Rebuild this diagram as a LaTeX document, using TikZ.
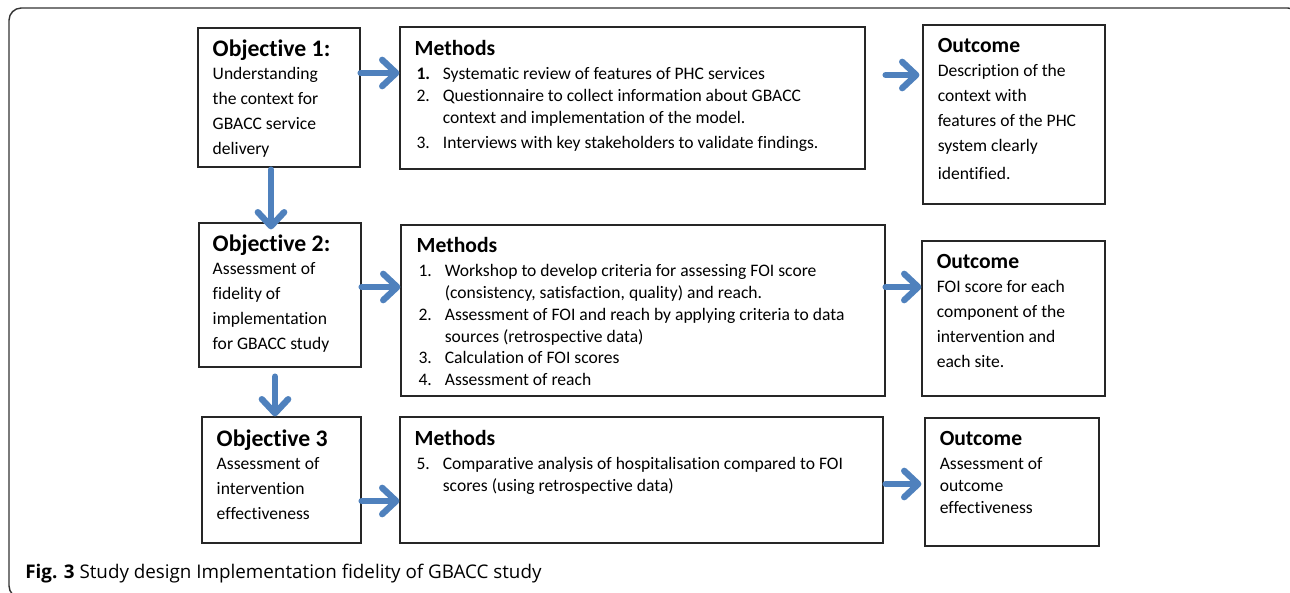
\documentclass[tikz,border=0pt]{standalone}
\usepackage{fontspec}
\setmainfont[Ligatures=NoCommon]{Carlito}
\newfontfamily\capfont{Open Sans}
\usetikzlibrary{arrows.meta}

\definecolor{arrowblue}{RGB}{79,129,189}
\newlength{\pxl}\setlength{\pxl}{0.02cm}

% headings and numbered lines
\newcommand{\objhd}[1]{{\fontsize{13.5}{14}\selectfont\bfseries #1}}
\newcommand{\methd}[1]{{\fontsize{12.3}{14}\selectfont\bfseries #1}}
\newcommand{\mitem}[2]{\hspace*{1pt}\makebox[15pt][l]{#1}#2}
\newcommand{\mcont}{\hspace*{16pt}}

\begin{document}
\begin{tikzpicture}[x=0.02cm,y=-0.02cm,
    box/.style={draw=black!85,line width=0.7pt,inner sep=0pt},
    wide/.style={anchor=north west,inner sep=0pt,align=left,font=\fontsize{10}{14.2}\selectfont},
    tight/.style={anchor=north west,inner sep=0pt,align=left,font=\fontsize{10}{12.4}\selectfont},
    bigarrow/.style={draw=arrowblue,line width=3.6pt,line cap=round,-{Straight Barb[length=8pt,width=15pt,round]}},
    frame/.style={draw=black!80,line width=0.8pt,rounded corners=7pt}]

        \clip (0,0) rectangle (1290,592);

        %frame
        \draw[frame] (9,8) rectangle (1300,598);

        %boxes
        \node[box,minimum width=162\pxl,minimum height=139\pxl] (obj1) at (279,97.5) {};
        \node[box,minimum width=465\pxl,minimum height=142\pxl] (meth1) at (632.5,98) {};
        \node[box,minimum width=182\pxl,minimum height=179\pxl] (out1) at (1014,114.5) {};
        \node[box,minimum width=162\pxl,minimum height=144\pxl] (obj2) at (280,295) {};
        \node[box,minimum width=484\pxl,minimum height=171\pxl] (meth2) at (643,310.5) {};
        \node[box,minimum width=183\pxl,minimum height=155\pxl] (out2) at (1013.5,318.5) {};
        \node[box,minimum width=159\pxl,minimum height=126\pxl] (obj3) at (281.5,480) {};
        \node[box,minimum width=483\pxl,minimum height=126\pxl] (meth3) at (641.5,480) {};
        \node[box,minimum width=174\pxl,minimum height=128\pxl] (out3) at (1012,482) {};

        %row 1 texts
        \node[wide] (obj1t) at ([shift={(15,12)}]obj1.north west)
            {\objhd{Objective 1:}\\[-0.8pt] Understanding\\ the context for\\ GBACC service\\ delivery};
        \node[tight] (meth1t) at ([shift={(15,14)}]meth1.north west)
            {\methd{Methods}\\[1.2pt]
             \mitem{\textbf{1.}}{Systematic review of features of PHC services}\\
             \mitem{2.}{Questionnaire to collect information about GBACC}\\
             \mcont context and implementation of the model.\\[2pt]
             \mitem{3.}{Interviews with key stakeholders to validate findings.}};
        \node[wide] (out1t) at ([shift={(15,14)}]out1.north west)
            {\methd{Outcome}\\[-0.6pt] Description of the\\ context with\\ features of the PHC\\ system clearly\\[1.5pt] identified.};

        %row 2 texts
        \node[wide] (obj2t) at ([shift={(14,12)}]obj2.north west)
            {\objhd{Objective 2:}\\[-0.8pt] Assessment of\\ fidelity of\\ implementation\\ for GBACC study};
        \node[tight] (meth2t) at ([shift={(16,13)}]meth2.north west)
            {\methd{Methods}\\[1.2pt]
             \mitem{1.}{Workshop to develop criteria for assessing FOI score}\\
             \mcont (consistency, satisfaction, quality) and reach.\\
             \mitem{2.}{Assessment of FOI and reach by applying criteria to data}\\
             \mcont sources (retrospective data)\\
             \mitem{3.}{Calculation of FOI scores}\\
             \mitem{4.}{Assessment of reach}};
        \node[wide] (out2t) at ([shift={(15,14)}]out2.north west)
            {\methd{Outcome}\\[-0.6pt] FOI score for each\\ component of the\\ intervention and\\ each site.};

        %row 3 texts
        \node[wide] (obj3t) at ([shift={(15,13)}]obj3.north west)
            {\objhd{Objective 3}\\[-0.8pt] Assessment of\\ intervention\\ effectiveness};
        \node[tight] (meth3t) at ([shift={(15,14)}]meth3.north west)
            {\methd{Methods}\\[1.2pt]
             \mitem{5.}{Comparative analysis of hospitalisation compared to FOI}\\
             \mcont scores (using retrospective data)};
        \node[tight] (out3t) at ([shift={(15,14)}]out3.north west)
            {\methd{Outcome}\\[1.2pt] Assessment of\\ outcome\\ effectiveness};

        %arrow rows and columns
        \coordinate (r1) at (0,73);
        \coordinate (r1b) at (0,75);
        \coordinate (r2) at (0,287);
        \coordinate (r3) at (0,501);
        \coordinate (r3b) at (0,484);
        \coordinate (c1) at (271,0);
        \coordinate (c2) at (275,0);

        %horizontal arrows
        \draw[bigarrow] (obj1.east |- r1) -- (meth1.west |- r1);
        \draw[bigarrow,shorten <=20\pxl,shorten >=3\pxl] (meth1.east |- r1b) -- (out1.west |- r1b);
        \draw[bigarrow] (obj2.east |- r2) -- (meth2.west |- r2);
        \draw[bigarrow] (meth2.east |- r2) -- (out2.west |- r2);
        \draw[bigarrow] (obj3.east |- r3) -- (meth3.west |- r3);
        \draw[bigarrow,shorten <=2\pxl,shorten >=3\pxl] (meth3.east |- r3b) -- (out3.west |- r3b);

        %vertical arrows
        \draw[bigarrow,shorten <=2\pxl,shorten >=-7\pxl] (obj1.south -| c1) -- (obj2.north -| c1);
        \draw[bigarrow,shorten <=9\pxl] (obj2.south -| c2) -- (obj3.north -| c2);

        %caption
        \node[anchor=base west,inner sep=0pt,font=\capfont\fontsize{10.7}{13}\selectfont] (cap) at (25,578)
            {\textbf{Fig. 3} Study design Implementation fidelity of GBACC study};
\end{tikzpicture}
\end{document}
